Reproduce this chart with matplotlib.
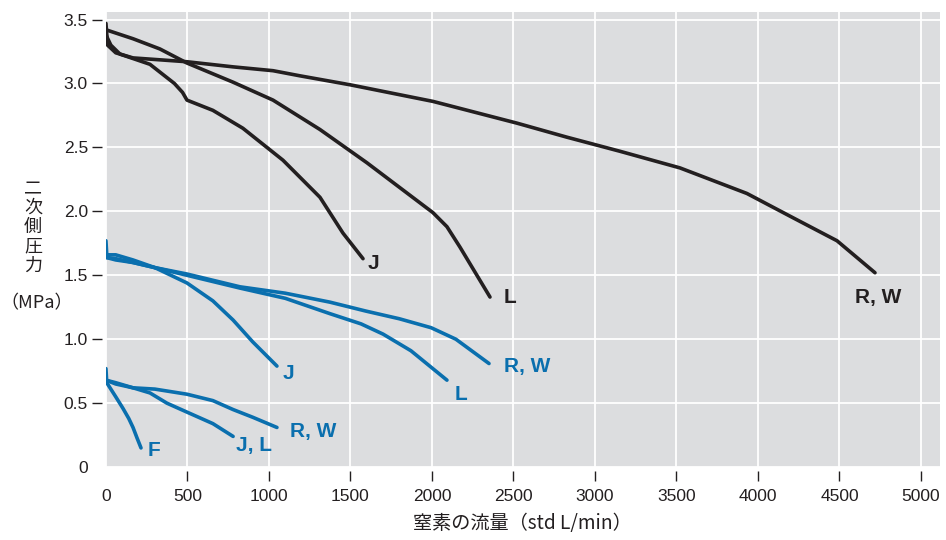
import matplotlib.pyplot as plt

plt.rcParams['font.family'] = ['Liberation Sans', 'Noto Sans CJK JP', 'DejaVu Sans']

# Upstream-pressure groups: black ~3.5 MPa, blue ~1.7 MPa, blue ~0.7 MPa
black_rw_x = [0, 10, 60, 166, 497, 780, 1025, 1190, 1497, 2006, 2521, 2828, 3153, 3521, 3932, 4215, 4485, 4718]
black_rw_y = [3.47, 3.30, 3.24, 3.20, 3.17, 3.13, 3.10, 3.06, 2.99, 2.86, 2.69, 2.58, 2.47, 2.34, 2.14, 1.95, 1.77, 1.52]
black_j_x = [0, 30, 86, 270, 420, 470, 497, 656, 840, 1086, 1313, 1454, 1577]
black_j_y = [3.38, 3.30, 3.23, 3.15, 3.00, 2.93, 2.87, 2.79, 2.65, 2.40, 2.11, 1.83, 1.63]
black_l_x = [0, 166, 331, 497, 780, 1025, 1313, 1601, 2006, 2092, 2172, 2356]
black_l_y = [3.42, 3.35, 3.27, 3.16, 3.01, 2.87, 2.64, 2.38, 1.99, 1.88, 1.72, 1.33]

blue_j_x = [0, 5, 60, 166, 300, 497, 656, 780, 900, 1049]
blue_j_y = [1.77, 1.66, 1.66, 1.62, 1.56, 1.44, 1.30, 1.15, 0.98, 0.79]
blue_rw_x = [0, 60, 166, 300, 497, 822, 1100, 1374, 1595, 1800, 1995, 2147, 2350]
blue_rw_y = [1.64, 1.63, 1.60, 1.56, 1.51, 1.41, 1.36, 1.29, 1.22, 1.16, 1.09, 1.00, 0.81]
blue_l_x = [0, 60, 166, 300, 497, 822, 1100, 1374, 1565, 1700, 1871, 2092]
blue_l_y = [1.64, 1.62, 1.60, 1.56, 1.50, 1.40, 1.32, 1.20, 1.12, 1.04, 0.91, 0.68]

low_f_x = [0, 5, 25, 60, 104, 140, 166, 190, 215]
low_f_y = [0.77, 0.66, 0.62, 0.55, 0.46, 0.38, 0.31, 0.23, 0.15]
low_jl_x = [0, 60, 166, 270, 374, 497, 656, 780]
low_jl_y = [0.68, 0.66, 0.62, 0.58, 0.50, 0.43, 0.34, 0.24]
low_rw_x = [0, 60, 166, 300, 497, 656, 780, 900, 1049]
low_rw_y = [0.68, 0.65, 0.62, 0.61, 0.57, 0.52, 0.45, 0.39, 0.31]

# curve labels: (text, x, y, colour key)
labels = [
    ('J', 1644, 1.59, 'k'), ('L', 2479, 1.33, 'k'), ('R, W', 4736, 1.33, 'k'),
    ('J', 1117, 0.73, 'b'), ('R, W', 2583, 0.79, 'b'), ('L', 2178, 0.565, 'b'),
    ('R, W', 1270, 0.275, 'b'), ('J, L', 908, 0.17, 'b'), ('F', 294, 0.126, 'b'),
]

BLACK = '#231f20'
BLUE = '#0a6fae'
colors = {'k': BLACK, 'b': BLUE}

fig = plt.figure(figsize=(9.46, 5.4), dpi=100)
ax = fig.add_axes([0.112, 0.135, 0.8817, 0.843])
ax.set_facecolor('#dcdddf')

for xs, ys in [(black_rw_x, black_rw_y), (black_j_x, black_j_y), (black_l_x, black_l_y)]:
    ax.plot(xs, ys, color=BLACK, lw=2.6, solid_capstyle='round', solid_joinstyle='round', zorder=3)
for xs, ys in [(blue_j_x, blue_j_y), (blue_rw_x, blue_rw_y), (blue_l_x, blue_l_y),
               (low_f_x, low_f_y), (low_jl_x, low_jl_y), (low_rw_x, low_rw_y)]:
    ax.plot(xs, ys, color=BLUE, lw=2.6, solid_capstyle='round', solid_joinstyle='round', zorder=3)

for text, x, y, c in labels:
    ax.text(x, y, text, color=colors[c], fontsize=15, fontweight='bold',
            ha='center', va='center', zorder=4)

ax.set_xlim(0, 5117)
ax.set_ylim(0, 3.56)
ax.set_xticks(range(0, 5001, 500))
ax.set_yticks([0, 0.5, 1.0, 1.5, 2.0, 2.5, 3.0, 3.5])
ax.set_yticklabels(['0', '0.5', '1.0', '1.5', '2.0', '2.5', '3.0', '3.5'])
ax.grid(True, color='white', lw=1.3)
ax.set_axisbelow(True)

for s in ax.spines.values():
    s.set_visible(False)
ax.spines['left'].set_position(('outward', 3))
ax.spines['bottom'].set_position(('outward', 3))
ax.tick_params(axis='both', direction='out', length=7, width=1, color=BLACK,
               labelsize=12.5, labelcolor=BLACK)
ax.tick_params(axis='y', pad=3)
ax.tick_params(axis='x', pad=6)
ax.yaxis.get_major_ticks()[0].tick1line.set_visible(False)
ax.xaxis.get_major_ticks()[0].tick1line.set_visible(False)

# vertical Japanese axis title
for i, ch in enumerate('二次側圧力'):
    fig.text(33 / 946, 1 - (188 + i * 19.5) / 540, ch, fontsize=13, color=BLACK,
             ha='center', va='center', family=['Noto Sans CJK JP'])
fig.text(37 / 946, 1 - 303 / 540, '（MPa）', fontsize=13, color=BLACK,
         ha='center', va='center', family=['Noto Sans CJK JP', 'Liberation Sans'])
fig.text(522 / 946, 1 - 523 / 540, '窒素の流量（std L/min）', fontsize=13.8, color=BLACK,
         ha='center', va='center', family=['Noto Sans CJK JP', 'Liberation Sans'])

fig.savefig('out.png', dpi=100)
